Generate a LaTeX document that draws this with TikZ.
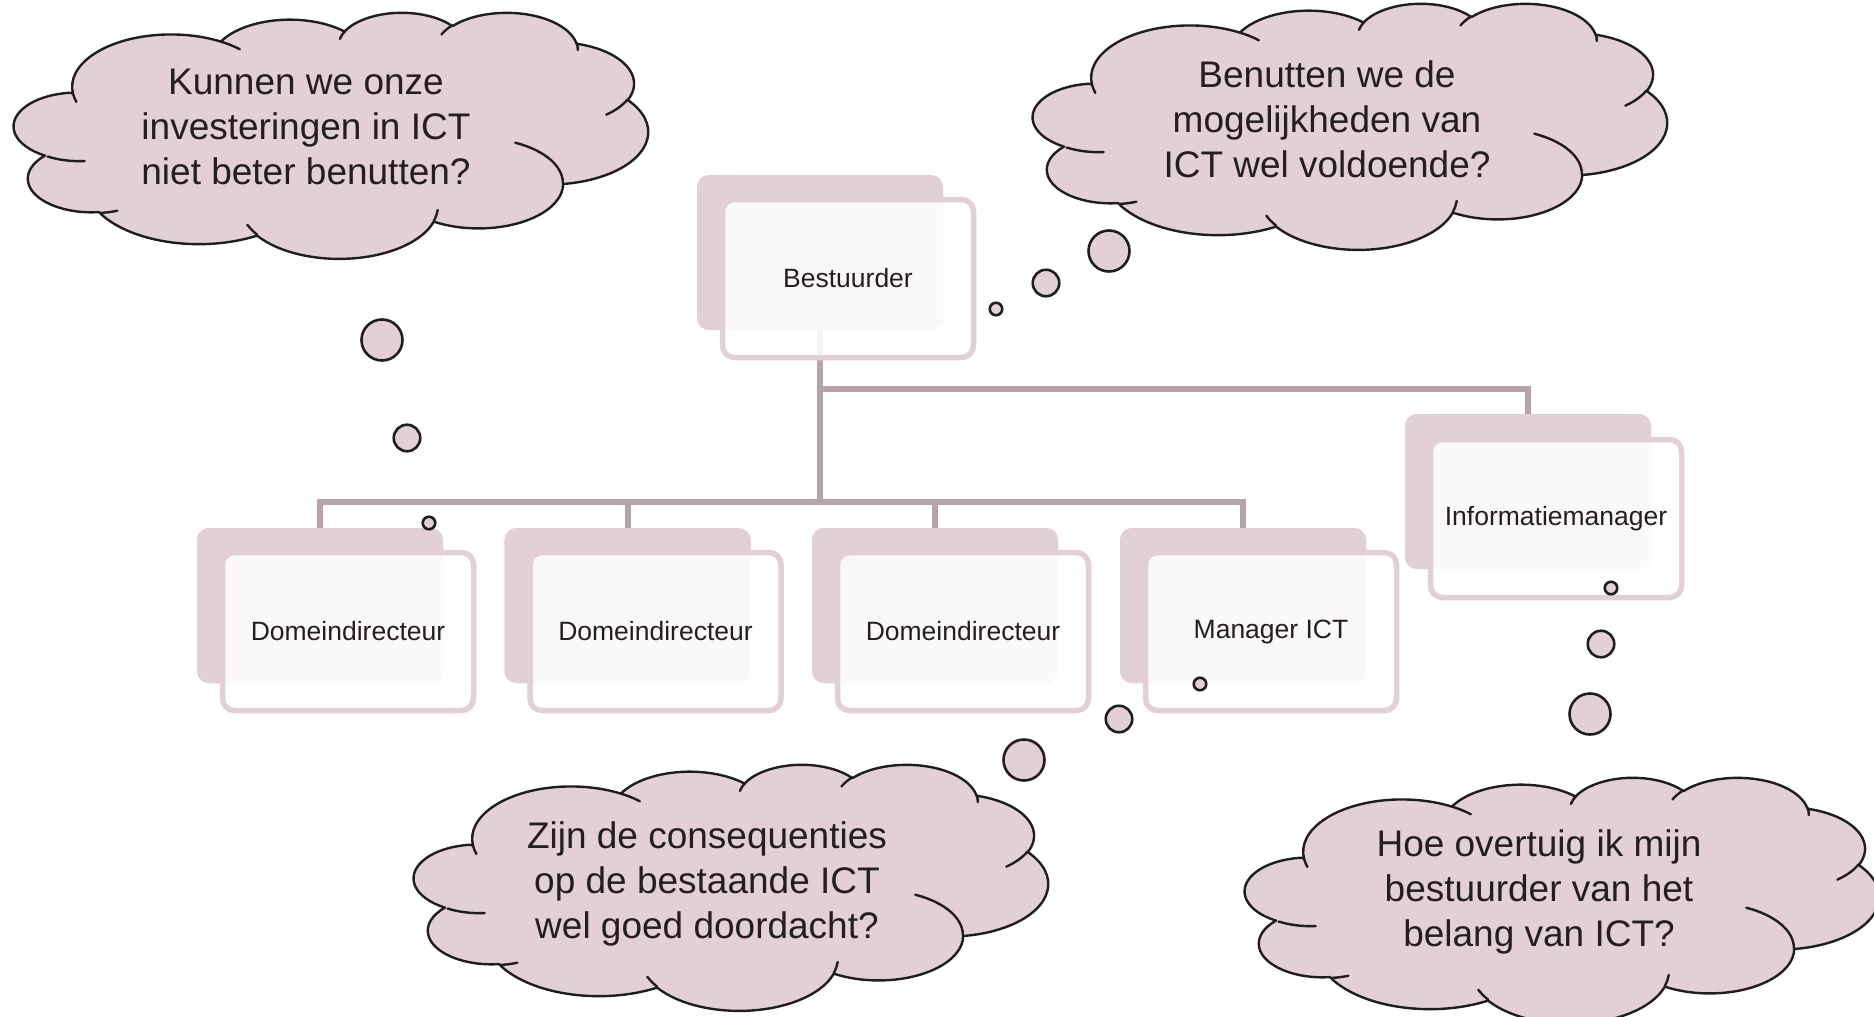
\documentclass[tikz,border=0pt]{standalone}
\usepackage{fontspec}
\setmainfont{Liberation Sans}
\definecolor{pinkfill}{RGB}{227,208,215}
\definecolor{connc}{RGB}{185,163,171}
\definecolor{inkc}{RGB}{30,30,30}
\definecolor{textc}{RGB}{35,31,32}
% OOXML-style arcTo (visual angles converted to parametric ones)
\newcommand\ooarc[4]{\pgfextra{%
  \pgfmathsetmacro\oos{atan2((#1)*sin(#3),(#2)*cos(#3))}%
  \pgfmathsetmacro\ooe{atan2((#1)*sin((#3)+(#4)),(#2)*cos((#3)+(#4)))}%
  \pgfmathsetmacro\ooe{ifthenelse(\ooe<\oos,\ooe+360,\ooe)}%
 } arc[x radius=#1, y radius=#2, start angle=\oos, end angle=\ooe]}
\newcommand\cloudpath{(39.00,143.70)
 \ooarc{67.53}{91.90}{-190.4875}{123.7805}
 \ooarc{53.33}{72.67}{-144.1024}{89.9452}
 \ooarc{43.65}{59.45}{-145.8079}{99.7230}
 \ooarc{48.57}{65.95}{-130.9861}{117.2417}
 \ooarc{53.33}{72.73}{-78.7089}{109.0269}
 \ooarc{67.75}{92.20}{-46.2673}{130.2690}
 \ooarc{57.85}{78.67}{0.6250}{114.0333}
 \ooarc{67.52}{92.15}{22.4516}{115.1726}
 \ooarc{77.20}{105.43}{66.2426}{78.0439}
 \ooarc{43.60}{59.18}{-274.9421}{146.7356}
 \ooarc{43.45}{59.45}{-246.8285}{152.5189}
 -- cycle}
\newcommand\cloudinner{(46.93,261.77) \ooarc{43.45}{59.45}{86.7420}{26.4295}
 (69.28,348.99) \ooarc{43.60}{59.18}{73.6105}{11.4475}
 (164.78,390.90) \ooarc{67.52}{92.15}{137.6242}{14.0811}
 (288.27,347.51) \ooarc{67.52}{92.15}{6.4533}{15.9984}
 (341.29,229.54) \ooarc{57.85}{78.67}{-70.2924}{70.9174}
 (417.98,153.54) \ooarc{53.33}{72.73}{30.3180}{27.7515}
 (383.24,54.26) \ooarc{48.57}{65.95}{-13.7443}{14.8589}
 (290.78,39.52) \ooarc{48.57}{65.95}{-149.1815}{18.1954}
 (221.41,47.20) \ooarc{43.65}{59.45}{-163.4943}{17.6864}
 (140.00,51.92) \ooarc{67.53}{91.90}{-66.7070}{12.3194}
 (41.27,157.89) \ooarc{67.53}{91.90}{157.6544}{11.8539}}
\newcommand\cloudat[2]{%
 \begin{scope}[shift={(#1pt,-#2pt)}, x=1.46296pt, y=-0.569444pt]
  \draw[cloudshape] \cloudpath;
  \draw[cloudinner] \cloudinner;
 \end{scope}}
\begin{document}
\begin{tikzpicture}[x=1pt,y=-1pt,
  backbox/.style={rectangle, fill=pinkfill, draw=none, rounded corners=12pt,
    minimum width=246pt, minimum height=155pt, inner sep=0pt},
  frontbox/.style={rectangle, draw=pinkfill, line width=5.5pt, fill=white,
    fill opacity=0.86, text opacity=1, rounded corners=12pt,
    minimum width=251pt, minimum height=158pt, inner sep=0pt,
    text=textc, font=\fontsize{26.5}{32}\selectfont},
  conn/.style={draw=connc, line width=6pt},
  cloudshape/.style={draw=inkc, fill=pinkfill, line width=2.4pt, line join=round},
  cloudinner/.style={draw=inkc, line width=2.4pt, line cap=round},
  cloudtext/.style={align=center, text=textc, inner sep=0pt,
    font=\fontsize{37}{45}\selectfont},
  bubble/.style={circle, draw=inkc, fill=pinkfill, line width=2.6pt, inner sep=0pt}]
\useasboundingbox (0,0) rectangle (1874,1017);
\clip (0,0) rectangle (1874,1017);

% junction points
\coordinate (j1) at (820,389);
\coordinate (j2) at (820,501.5);

% back boxes
\node[backbox] (bb) at (820,252.5) {};
\node[backbox] (ib) at (1528,491.5) {};
\node[backbox] (d1b) at (320,605.5) {};
\node[backbox] (d2b) at (627.5,605.5) {};
\node[backbox] (d3b) at (935,605.5) {};
\node[backbox] (mb) at (1243,605.5) {};

% connectors
\draw[conn] (bb.south) -- (j2);
\draw[conn] (j1) -| (ib.north);
\draw[conn] (d1b.north) |- (j2) -| (mb.north);
\draw[conn] (d2b.north) -- (d2b.north |- j2);
\draw[conn] (d3b.north) -- (d3b.north |- j2);

% redraw back boxes over connector ends
\node[backbox] at (bb) {};
\node[backbox] at (ib) {};
\node[backbox] at (d1b) {};
\node[backbox] at (d2b) {};
\node[backbox] at (d3b) {};
\node[backbox] at (mb) {};

% front boxes with labels
\node[frontbox] (bf) at (848,278.5) {Bestuurder};
\node[frontbox] (if) at (1556,518.5) {Informatiemanager};
\node[frontbox] (d1f) at (348,631.5) {Domeindirecteur};
\node[frontbox] (d2f) at (655.5,631.5) {Domeindirecteur};
\node[frontbox] (d3f) at (963,631.5) {Domeindirecteur};
\node[frontbox] (mf) at (1271,631.5) {Manager ICT};

% clouds
\cloudat{16}{12}
\cloudat{1035}{3}
\cloudat{416}{764}
\cloudat{1247}{777}

\node[cloudtext] (q1) at (306,127) {Kunnen we onze\\investeringen in ICT\\niet beter benutten?};
\node[cloudtext] (q2) at (1327,119.5) {Benutten we de\\mogelijkheden van\\ICT wel voldoende?};
\node[cloudtext] (q3) at (707,884) {Zijn de consequenties\\op de bestaande ICT\\wel goed doordacht?};
\node[cloudtext] (q4) at (1539,892) {Hoe overtuig ik mijn\\bestuurder van het\\belang van ICT?};

% thought bubbles
\node[bubble, minimum size=12.5pt] (a1) at (996,309) {};
\node[bubble, minimum size=26.5pt] (a2) at (1046,283) {};
\node[bubble, minimum size=41pt] (a3) at (1109,251) {};

\node[bubble, minimum size=41pt] (b1) at (382,340) {};
\node[bubble, minimum size=26.5pt] (b2) at (407,438) {};
\node[bubble, minimum size=12.5pt] (b3) at (429,523) {};

\node[bubble, minimum size=12.5pt] (c1) at (1200,684) {};
\node[bubble, minimum size=26.5pt] (c2) at (1119,719) {};
\node[bubble, minimum size=41pt] (c3) at (1024,760) {};

\node[bubble, minimum size=12.5pt] (e1) at (1611,588) {};
\node[bubble, minimum size=26.5pt] (e2) at (1601,644) {};
\node[bubble, minimum size=41pt] (e3) at (1590,714) {};
\end{tikzpicture}
\end{document}
